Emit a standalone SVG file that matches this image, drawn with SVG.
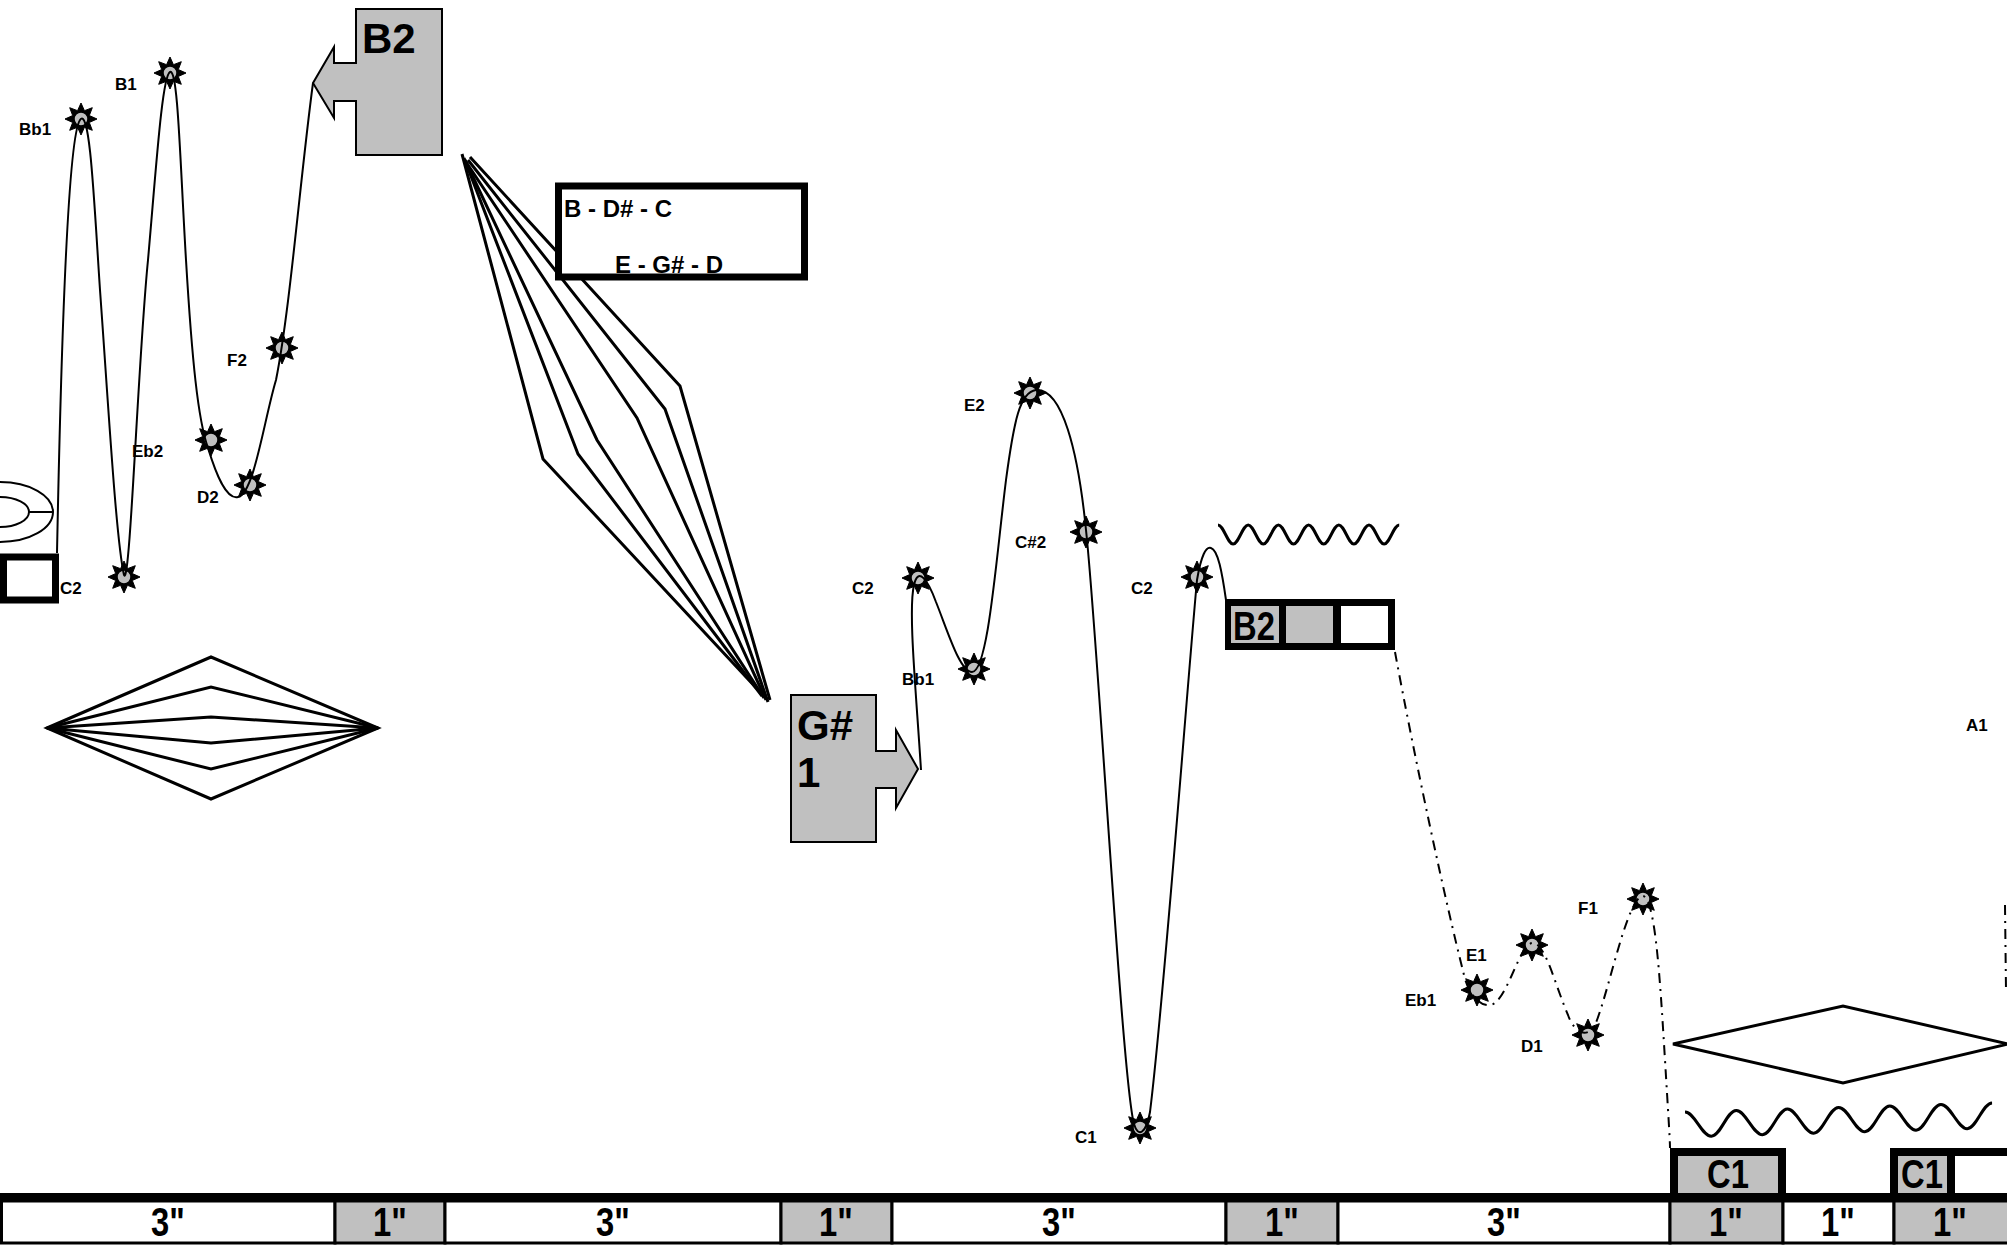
<svg xmlns="http://www.w3.org/2000/svg" xmlns:xlink="http://www.w3.org/1999/xlink" width="2007" height="1247" viewBox="0 0 2007 1247">
<style>
text{font-family:"Liberation Sans",Arial,sans-serif;font-weight:bold;fill:#000}
.lbl{font-size:17px}
.big{font-size:42px}
.mid{font-size:24px}
.nar{font-size:40px;text-anchor:middle}
.ln{fill:none;stroke:#000;stroke-width:2}
.th{fill:none;stroke:#000;stroke-width:3;stroke-linejoin:miter}
.dd{fill:none;stroke:#000;stroke-width:2;stroke-dasharray:10 6 2 6}
.gray{fill:#c0c0c0}
</style>
<defs>
<g id="star">
<polygon points="0,-16 3.44,-8.31 11.31,-11.31 8.31,-3.44 16,0 8.31,3.44 11.31,11.31 3.44,8.31 0,16 -3.44,8.31 -11.31,11.31 -8.31,3.44 -16,0 -8.31,-3.44 -11.31,-11.31 -3.44,-8.31" fill="#000" stroke="#000" stroke-width="1"/>
<circle r="7" fill="#c0c0c0" stroke="#000" stroke-width="1.5"/>
</g>
</defs>
<rect width="2007" height="1247" fill="#fff"/>

<g id="shapes">
<g id="ring">
<ellipse cx="0" cy="512" rx="53" ry="30" class="ln"/>
<ellipse cx="0" cy="512" rx="29" ry="15" class="ln"/>
<line x1="29" y1="512" x2="53" y2="512" class="ln"/>
</g>
<rect id="smallbox" x="3.5" y="557" width="52" height="43" fill="#fff" stroke="#000" stroke-width="7"/>
<g id="diamond-left" class="th">
<polygon points="47,728 211,657 378,728 211,799"/>
<polygon points="47,728 211,687 378,728 211,769"/>
<polygon points="47,728 211,717 378,728 211,743"/>
</g>
<g id="fan" class="th">
<polyline points="470,157 680,386 770,700"/>
<polyline points="468,160 665,409 768,702"/>
<polyline points="466,162 637,418 766,700"/>
<polyline points="465,160 597,440 764,698"/>
<polyline points="464,158 578,454 762,696"/>
<polyline points="462,154 543,459 760,692"/>
</g>
<polygon id="diamond-right" class="th" points="1673,1044 1843,1006 2008,1044 1843,1083"/>
<path id="wave-top" class="th" d="M1218,525 c5.5,0 9.6,19 15.1,19 s9.6,-19 15.1,-19 s9.6,19 15.1,19 s9.6,-19 15.1,-19 s9.6,19 15.1,19 s9.6,-19 15.1,-19 s9.6,19 15.1,19 s9.6,-19 15.1,-19 s9.6,19 15.1,19 s9.6,-19 15.1,-19 s9.6,19 15.1,19 s9.6,-19 15.1,-19"/>
<path id="wave-bottom" class="th" transform="rotate(-1.7 1685 1112)" d="M1685,1112 c9.4,0 16.2,25 25.6,25 s16.2,-25 25.6,-25 s16.2,25 25.6,25 s16.2,-25 25.6,-25 s16.2,25 25.6,25 s16.2,-25 25.6,-25 s16.2,25 25.6,25 s16.2,-25 25.6,-25 s16.2,25 25.6,25 s16.2,-25 25.6,-25 s16.2,25 25.6,25 s16.2,-25 25.6,-25"/>
</g>

<g id="node-B2-arrow">
<polygon points="356,9 442,9 442,155 356,155 356,101 334,101 334,118 313,83 334,47 334,63 356,63" class="gray" stroke="#000" stroke-width="2"/>
<text x="362" y="53" class="big">B2</text>
</g>
<g id="node-chords">
<rect x="558.5" y="186" width="246" height="91" fill="#fff" stroke="#000" stroke-width="7"/>
<text x="564" y="217" class="mid">B - D# - C</text>
<text x="615" y="273" class="mid">E - G# - D</text>
</g>
<g id="node-Gs1-arrow">
<polygon points="791,695 876,695 876,751 896,751 896,730 918,769 896,808 896,788 876,788 876,842 791,842" class="gray" stroke="#000" stroke-width="2"/>
<text x="797" y="740" class="big">G#</text>
<text x="797" y="787" class="big">1</text>
</g>
<g id="node-B2-cells">
<rect x="1225" y="599" width="170" height="51" fill="#000"/>
<rect x="1231" y="606" width="48" height="37" class="gray"/>
<rect x="1286" y="606" width="47" height="37" class="gray"/>
<rect x="1341" y="606" width="47" height="37" fill="#fff"/>
<text class="nar" transform="translate(1254 640) scale(0.82 1)">B2</text>
</g>
<g id="node-C1-box">
<rect x="1674" y="1152" width="108" height="46" class="gray" stroke="#000" stroke-width="8"/>
<text class="nar" transform="translate(1728 1188) scale(0.82 1)">C1</text>
</g>
<g id="node-C1-box2">
<rect x="1894" y="1152" width="120" height="46" fill="#fff" stroke="#000" stroke-width="8"/>
<rect x="1898" y="1156" width="50" height="40" class="gray"/>
<rect x="1947" y="1152" width="8" height="44" fill="#000"/>
<text class="nar" transform="translate(1922 1188) scale(0.82 1)">C1</text>
</g>

<g id="timeline">
<rect x="0" y="1193" width="2007" height="8" fill="#000"/>
<g stroke="#000" stroke-width="3">
<rect x="1.5" y="1201" width="333.5" height="42" fill="#fff"/>
<rect x="335" y="1201" width="110" height="42" class="gray"/>
<rect x="445" y="1201" width="336" height="42" fill="#fff"/>
<rect x="781" y="1201" width="111" height="42" class="gray"/>
<rect x="892" y="1201" width="334" height="42" fill="#fff"/>
<rect x="1226" y="1201" width="112" height="42" class="gray"/>
<rect x="1338" y="1201" width="332" height="42" fill="#fff"/>
<rect x="1670" y="1201" width="113" height="42" class="gray"/>
<rect x="1783" y="1201" width="111" height="42" fill="#fff"/>
<rect x="1894" y="1201" width="116" height="42" class="gray"/>
</g>
<text class="nar" transform="translate(168 1236) scale(0.82 1)">3"</text>
<text class="nar" transform="translate(390 1236) scale(0.82 1)">1"</text>
<text class="nar" transform="translate(613 1236) scale(0.82 1)">3"</text>
<text class="nar" transform="translate(836 1236) scale(0.82 1)">1"</text>
<text class="nar" transform="translate(1059 1236) scale(0.82 1)">3"</text>
<text class="nar" transform="translate(1282 1236) scale(0.82 1)">1"</text>
<text class="nar" transform="translate(1504 1236) scale(0.82 1)">3"</text>
<text class="nar" transform="translate(1726 1236) scale(0.82 1)">1"</text>
<text class="nar" transform="translate(1838 1236) scale(0.82 1)">1"</text>
<text class="nar" transform="translate(1950 1236) scale(0.82 1)">1"</text>
</g>

<g id="node-Bb1-a"><use xlink:href="#star" x="81" y="119"/><text x="19" y="135" class="lbl">Bb1</text></g>
<g id="node-B1"><use xlink:href="#star" x="170" y="73"/><text x="115" y="90" class="lbl">B1</text></g>
<g id="node-C2-a"><use xlink:href="#star" x="124" y="577"/><text x="60" y="594" class="lbl">C2</text></g>
<g id="node-Eb2"><use xlink:href="#star" x="211" y="440"/><text x="132" y="457" class="lbl">Eb2</text></g>
<g id="node-D2"><use xlink:href="#star" x="250" y="485"/><text x="197" y="503" class="lbl">D2</text></g>
<g id="node-F2"><use xlink:href="#star" x="282" y="348"/><text x="227" y="366" class="lbl">F2</text></g>
<g id="node-C2-b"><use xlink:href="#star" x="918" y="578"/><text x="852" y="594" class="lbl">C2</text></g>
<g id="node-Bb1-b"><use xlink:href="#star" x="974" y="669"/><text x="902" y="685" class="lbl">Bb1</text></g>
<g id="node-E2"><use xlink:href="#star" x="1030" y="393"/><text x="964" y="411" class="lbl">E2</text></g>
<g id="node-Cs2"><use xlink:href="#star" x="1086" y="532"/><text x="1015" y="548" class="lbl">C#2</text></g>
<g id="node-C2-c"><use xlink:href="#star" x="1197" y="577"/><text x="1131" y="594" class="lbl">C2</text></g>
<g id="node-C1"><use xlink:href="#star" x="1140" y="1128"/><text x="1075" y="1143" class="lbl">C1</text></g>
<g id="node-Eb1"><use xlink:href="#star" x="1477" y="990"/><text x="1405" y="1006" class="lbl">Eb1</text></g>
<g id="node-E1"><use xlink:href="#star" x="1532" y="945"/><text x="1466" y="961" class="lbl">E1</text></g>
<g id="node-D1"><use xlink:href="#star" x="1588" y="1035"/><text x="1521" y="1052" class="lbl">D1</text></g>
<g id="node-F1"><use xlink:href="#star" x="1643" y="899"/><text x="1578" y="914" class="lbl">F1</text></g>
<g id="node-A1"><text x="1966" y="731" class="lbl">A1</text></g>

<g id="connectors">
<path class="ln" d="M57,553 C60,400 66,140 80,120 C90,106 94,200 100,290 C108,400 116,540 124,575 C130,590 138,360 148,260 C156,170 162,76 170,72 C178,68 180,160 186,260 C192,360 198,420 208,448 C216,474 226,500 238,497 C254,494 264,420 276,380 C290,310 300,180 313,83"/>
<path class="ln" d="M921,770 C916,690 908,610 914,585 C918,566 928,580 936,602 C948,632 960,672 972,672 C988,672 996,560 1006,480 C1014,420 1020,392 1036,390 C1062,388 1078,450 1086,530 C1098,640 1122,1080 1134,1124 C1138,1138 1146,1134 1150,1112 C1164,1000 1186,700 1197,580 C1201,556 1206,546 1211,548 C1218,550 1222,572 1226,600"/>
<path class="dd" d="M1395,652 C1415,760 1445,900 1464,975 C1470,1000 1485,1010 1495,1003 C1510,990 1520,945 1532,943 C1545,941 1555,985 1568,1015 C1575,1035 1590,1040 1597,1020 C1610,985 1625,910 1640,897 C1655,885 1660,980 1665,1060 C1668,1110 1670,1140 1670,1148"/>
<path class="dd" d="M2005,905 L2006,990"/>
</g>
</svg>
